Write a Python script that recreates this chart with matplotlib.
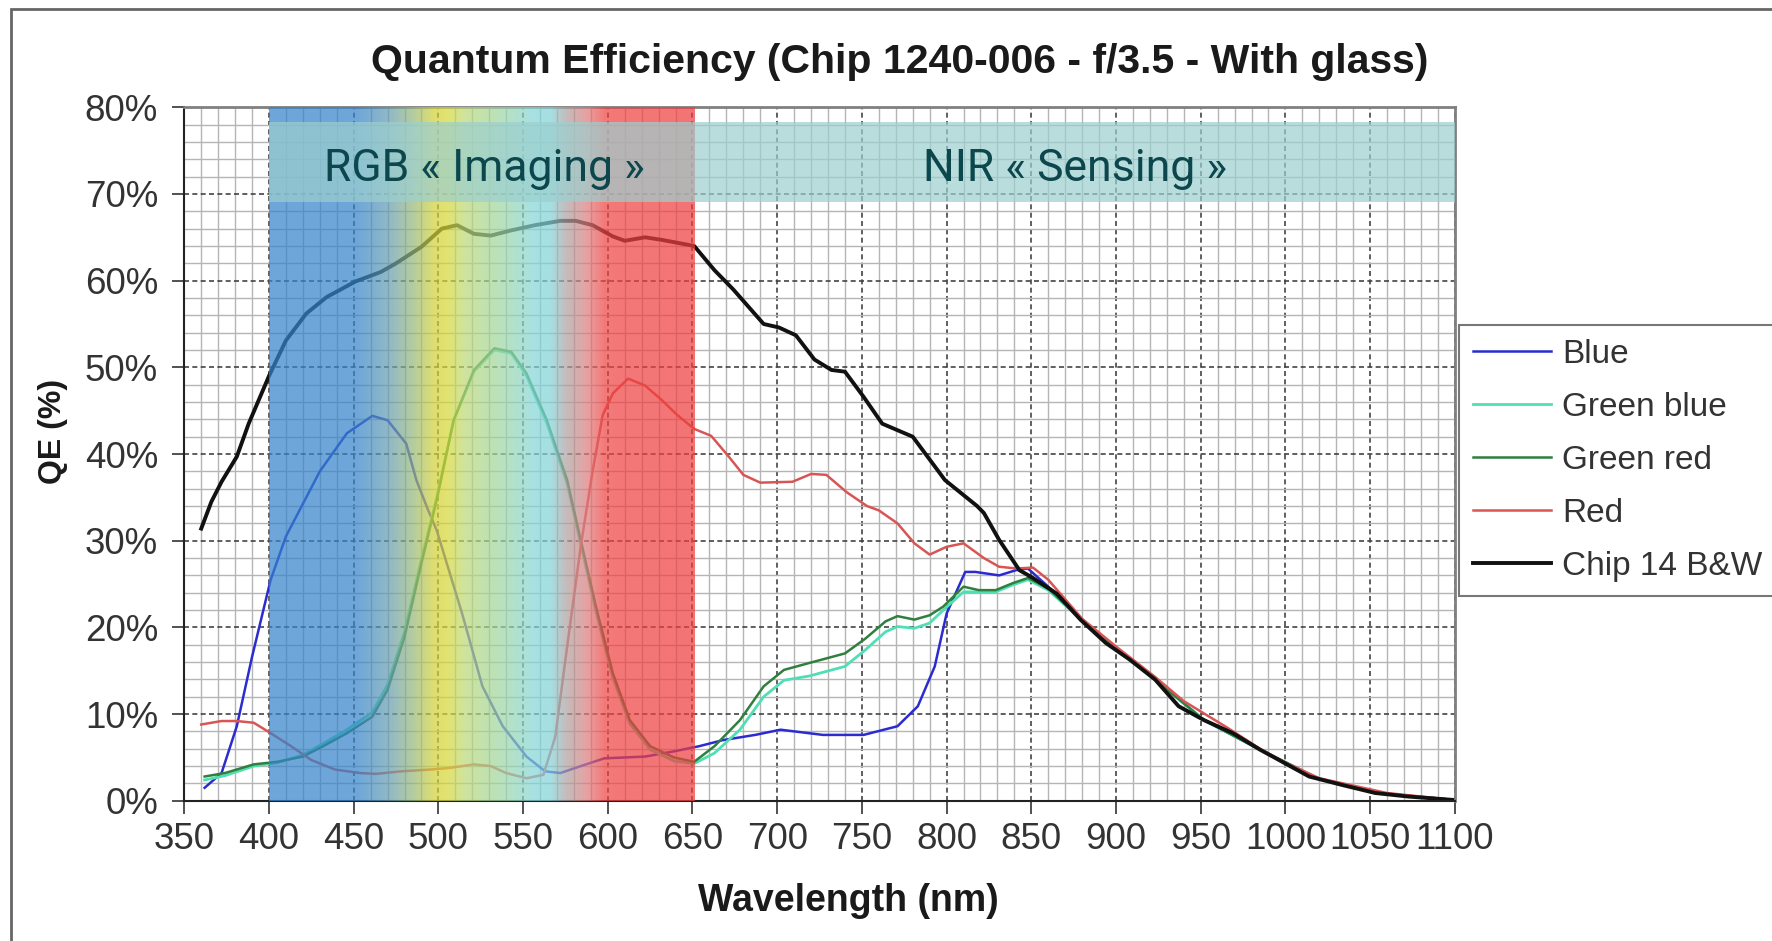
import numpy as np
import matplotlib
matplotlib.use('Agg')
import matplotlib.pyplot as plt
from matplotlib.ticker import MultipleLocator
from matplotlib.patches import Rectangle
from matplotlib.colors import to_rgb

plt.rcParams['font.family'] = ['Liberation Sans', 'DejaVu Sans']

# Chip 14 B&W
wl_bw = [360, 366, 372, 381, 388, 400, 410, 422, 434, 451, 466, 475, 490, 502, 511, 521, 531, 543, 557, 572,
         581, 591, 603, 610, 622, 632, 651, 663, 674, 692, 701, 711, 722, 732, 740, 751, 762, 780, 799, 818,
         822, 831, 843, 851, 865, 879, 894, 908, 923, 937, 952, 969, 985, 1000, 1014, 1034, 1053, 1072, 1099]
qe_bw = [31.4, 34.5, 36.8, 39.7, 43.5, 49.0, 53.1, 56.2, 58.1, 59.9, 61.0, 62.0, 63.9, 66.0, 66.4, 65.4, 65.2, 65.8, 66.4, 66.9,
         66.9, 66.4, 65.1, 64.6, 65.0, 64.7, 64.0, 61.2, 59.0, 55.0, 54.6, 53.7, 50.9, 49.7, 49.5, 46.6, 43.5, 42.0, 37.0, 34.0,
         33.2, 30.1, 26.6, 25.7, 23.9, 20.9, 18.2, 16.3, 14.0, 10.9, 9.3, 7.8, 5.9, 4.3, 2.8, 1.8, 0.9, 0.5, 0.1]

# Blue
wl_b = [362, 372, 381, 390, 401, 410, 422, 430, 446, 461, 470, 481, 487, 494, 499, 514, 526, 538, 552, 563,
        572, 584, 598, 622, 639, 654, 668, 687, 702, 727, 751, 771, 783, 793, 800, 811, 817, 831, 841, 848,
        860, 880, 900, 923, 952, 985, 1020, 1060, 1099]
qe_b = [1.5, 3.2, 8.6, 16.6, 25.5, 30.5, 35.0, 38.0, 42.4, 44.4, 43.9, 41.2, 37.0, 33.5, 31.2, 21.6, 13.2, 8.6, 5.1, 3.4,
        3.2, 4.0, 4.9, 5.1, 5.7, 6.3, 7.0, 7.6, 8.2, 7.6, 7.6, 8.6, 10.9, 15.5, 21.6, 26.4, 26.4, 26.0, 26.6, 26.8,
        24.7, 20.9, 17.6, 14.0, 9.3, 5.9, 2.5, 0.8, 0.1]

# Green red
wl_gr = [362, 374, 391, 405, 420, 432, 446, 461, 470, 480, 490, 499, 509, 521, 533, 543, 552, 564, 576, 584,
         593, 603, 613, 625, 639, 651, 663, 678, 692, 704, 719, 740, 752, 764, 771, 781, 790, 798, 810, 819,
         829, 839, 848, 860, 880, 900, 923, 952, 985, 1020, 1060, 1099]
qe_gr = [2.8, 3.2, 4.2, 4.5, 5.1, 6.3, 7.8, 9.7, 12.8, 18.9, 27.4, 34.7, 43.9, 49.7, 52.2, 51.8, 49.3, 43.9, 37.0, 30.1,
         22.4, 14.7, 9.3, 6.3, 5.0, 4.5, 6.3, 9.3, 13.2, 15.1, 15.9, 17.0, 18.7, 20.7, 21.3, 20.9, 21.4, 22.4, 24.7, 24.3,
         24.3, 25.1, 25.7, 24.5, 20.8, 17.6, 14.0, 9.3, 5.9, 2.5, 0.8, 0.1]

# Green blue
wl_gb = [362, 374, 391, 405, 420, 432, 446, 461, 470, 480, 490, 499, 509, 521, 533, 543, 552, 564, 576, 584,
         593, 603, 613, 625, 639, 651, 663, 678, 692, 704, 719, 740, 752, 764, 771, 781, 790, 798, 810, 819,
         829, 839, 848, 860, 880, 900, 923, 952, 985, 1020, 1060, 1099]
qe_gb = [2.4, 2.9, 4.0, 4.4, 5.3, 6.6, 8.2, 10.2, 13.4, 19.5, 27.9, 35.0, 43.9, 49.5, 52.0, 51.6, 49.0, 43.5, 36.6, 29.6,
         21.8, 14.2, 8.9, 5.9, 4.6, 4.3, 5.5, 8.2, 12.0, 13.9, 14.4, 15.5, 17.4, 19.5, 20.1, 19.9, 20.5, 22.0, 24.1, 24.1,
         24.1, 24.9, 25.5, 24.3, 20.8, 17.6, 14.0, 9.3, 5.9, 2.5, 0.8, 0.1]

# Red
wl_r = [360, 372, 381, 391, 401, 413, 425, 439, 454, 463, 478, 495, 507, 521, 531, 540, 552, 562, 569, 576,
        584, 591, 597, 603, 612, 622, 632, 641, 651, 661, 671, 680, 690, 709, 720, 729, 741, 753, 760, 771,
        781, 790, 800, 810, 822, 831, 841, 851, 860, 880, 900, 923, 940, 966, 985, 1000, 1020, 1060, 1099]
qe_r = [8.8, 9.2, 9.2, 9.0, 7.8, 6.3, 4.7, 3.6, 3.2, 3.1, 3.4, 3.6, 3.8, 4.2, 4.0, 3.2, 2.6, 3.0, 7.4, 17.8,
        29.3, 38.0, 44.5, 47.0, 48.7, 47.9, 46.2, 44.5, 42.9, 42.1, 39.8, 37.6, 36.7, 36.8, 37.7, 37.6, 35.6, 34.0, 33.5, 32.0,
        29.7, 28.4, 29.3, 29.7, 28.0, 27.0, 26.8, 26.9, 25.5, 21.0, 17.8, 14.3, 11.5, 8.4, 6.0, 4.4, 2.6, 0.9, 0.1]

series_names = ['Blue', 'Green blue', 'Green red', 'Red', 'Chip 14 B&W']
x_ticks = [350, 400, 450, 500, 550, 600, 650, 700, 750, 800, 850, 900, 950, 1000, 1050, 1100]
y_ticks = [0, 10, 20, 30, 40, 50, 60, 70, 80]
y_tick_labels = ['0%', '10%', '20%', '30%', '40%', '50%', '60%', '70%', '80%']

fig = plt.figure(figsize=(17.72, 9.41), dpi=100)
ax = fig.add_axes([0.104, 0.149, 0.717, 0.737])

# lines
ax.plot(wl_b, qe_b, color='#2b2bd0', lw=1.8, label=series_names[0], zorder=2)
ax.plot(wl_gb, qe_gb, color='#4ee0b4', lw=2.0, label=series_names[1], zorder=2)
ax.plot(wl_gr, qe_gr, color='#2f7f3f', lw=1.8, label=series_names[2], zorder=2)
ax.plot(wl_r, qe_r, color='#d95555', lw=1.8, label=series_names[3], zorder=2)
ax.plot(wl_bw, qe_bw, color='#111111', lw=2.8, label=series_names[4], zorder=2.1)

# spectrum overlay (semi transparent, drawn above the curves)
stops = [(400, '#6ea7d9'), (452, '#6ea7d9'), (470, '#8fb8c8'), (485, '#b5cca0'), (497, '#dede70'),
         (505, '#e2e36f'), (515, '#cfe39c'), (530, '#bfe2b2'), (545, '#b2e2cc'), (555, '#a8e2e2'),
         (566, '#a6dfe3'), (575, '#c4bcbc'), (588, '#e8a0a0'), (598, '#f47878'), (651, '#f47474')]
a = 0.72
sw = np.linspace(400, 651, 600)
img = np.zeros((1, len(sw), 4))
for k in range(3):
    d = np.interp(sw, [s[0] for s in stops], [to_rgb(s[1])[k] for s in stops])
    img[0, :, k] = np.clip((d - (1 - a)) / a, 0, 1)
img[0, :, 3] = a
ax.imshow(img, extent=[400, 651, 0, 80], aspect='auto', zorder=3, interpolation='bilinear')

# teal band
ax.add_patch(Rectangle((400, 69.1), 700, 9.2, facecolor=(0.61, 0.81, 0.81), alpha=0.7,
                       edgecolor='none', zorder=3.5))
ax.text(527, 72.9, 'RGB « Imaging »', family='Roboto', fontsize=32,
        color='#0b474c', ha='center', va='center', zorder=5)
ax.text(876, 72.9, 'NIR « Sensing »', family='Roboto', fontsize=32,
        color='#0b474c', ha='center', va='center', zorder=5)

ax.set_xlim(350, 1100)
ax.set_ylim(0, 80)
ax.set_xticks(x_ticks)
ax.set_yticks(y_ticks)
ax.set_yticklabels(y_tick_labels)
ax.xaxis.set_minor_locator(MultipleLocator(10))
ax.yaxis.set_minor_locator(MultipleLocator(2))
ax.grid(which='minor', color='#b5b5b5', lw=1.0, zorder=0.5)
ax.grid(which='major', color='#444444', lw=1.2, ls=(0, (3, 2)), zorder=0.6)
ax.set_axisbelow(True)
ax.tick_params(which='major', direction='out', length=9, width=1.2, labelsize=26.5,
               labelcolor='#333333', color='#333333')
ax.tick_params(axis='y', pad=10)
ax.tick_params(axis='x', pad=6)
ax.tick_params(which='minor', length=0)
for s in ['left', 'bottom']:
    ax.spines[s].set_color('#222222')
    ax.spines[s].set_linewidth(1.5)
for s in ['top', 'right']:
    ax.spines[s].set_color('#808080')
    ax.spines[s].set_linewidth(2)

fig.text(0.508, 0.934, 'Quantum Efficiency (Chip 1240-006 - f/3.5 - With glass)',
         ha='center', va='center', fontsize=29.5, fontweight='bold', color='#1a1a1a')
fig.text(0.030, 0.541, 'QE (%)', rotation=90, ha='center', va='center',
         fontsize=23, fontweight='bold', color='#1a1a1a')
fig.text(0.479, 0.0425, 'Wavelength (nm)', ha='center', va='center',
         fontsize=27, fontweight='bold', color='#1a1a1a')

leg = ax.legend(loc='upper left', bbox_to_anchor=(0.8234, 0.6546), bbox_transform=fig.transFigure,
                fontsize=24, frameon=True, fancybox=False, handlelength=2.35, handletextpad=0.33,
                labelspacing=0.66, borderpad=0.42, borderaxespad=0)
leg.get_frame().set_edgecolor('#555555')
leg.get_frame().set_linewidth(1.5)
for t in leg.get_texts():
    t.set_color('#333333')

# outer frame of the picture
fig.patches.append(Rectangle((0.0062, -0.05), 1.2, 1.0404, transform=fig.transFigure,
                             fill=False, edgecolor='#666666', lw=2))

fig.savefig('out.png', dpi=100)
